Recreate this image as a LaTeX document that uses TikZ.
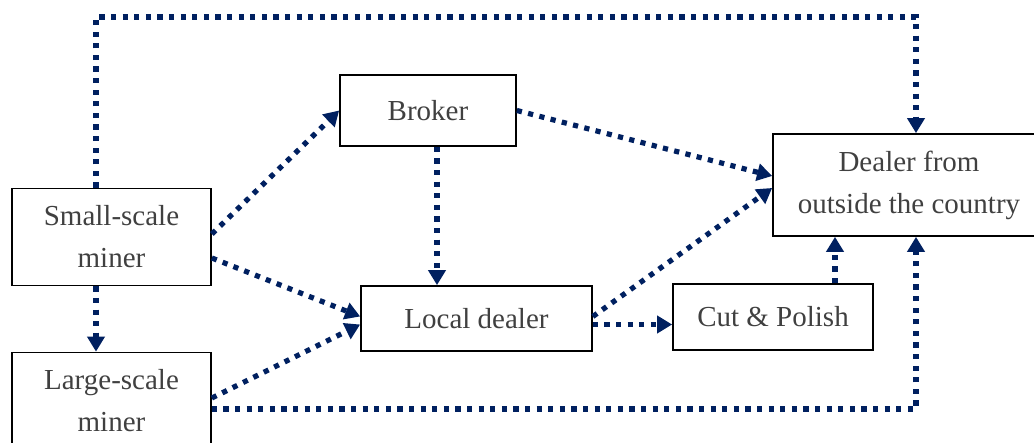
\documentclass[tikz,border=0pt]{standalone}
\usepackage{fontspec}
\setmainfont{Liberation Serif}
\usetikzlibrary{arrows.meta}
\definecolor{navy}{RGB}{0,32,96}
\definecolor{txtgray}{RGB}{64,64,64}
\tikzset{box/.style = {draw, line width=0.85pt, text=txtgray, align=center, inner sep=0pt,
                       font=\fontsize{14.5}{21}\selectfont},
         flow/.style = {navy, line width=2.6pt, dash pattern=on 2.6pt off 3.2pt,
                        -{Triangle[width=8.5pt,length=7.5pt]}}}

\begin{document}
\begin{tikzpicture}[x=0.5pt, y=-0.5pt]
\useasboundingbox (0,0) rectangle (1034,443);
\node[box, minimum width=99.5pt, minimum height=48.5pt] (small) at (111.5,237) {Small-scale\\miner};
\node[box, minimum width=99.5pt, minimum height=48.5pt] (large) at (111.5,401) {Large-scale\\miner};
\node[box, minimum width=88pt, minimum height=35.5pt] (broker) at (428,110.5) {Broker};
\node[box, minimum width=115.5pt, minimum height=32.5pt] (local) at (476.5,318.5) {Local dealer};
\node[box, minimum width=100pt, minimum height=33pt] (cut) at (773,317) {Cut \& Polish};
\node[box, minimum width=136pt, minimum height=51pt] (dealer) at (909,185) {Dealer from\\outside the country};
\coordinate (tl) at (96,17);
\coordinate (tr) at (916,17);
\coordinate (br) at (916,409);
% flows
\draw[flow] (tl |- small.north) -- (tl) -- (tr) -- (tr |- dealer.north);
\draw[flow] ([yshift=1.5pt]small.east) -- (broker.west);
\draw[flow] ([yshift=-10.5pt]small.east) -- ([yshift=1pt]local.west);
\draw[flow] (tl |- small.south) -- (tl |- large.north);
\draw[flow] ([yshift=1.5pt]large.east) -- ([yshift=-3pt]local.west);
\draw[flow] (br -| large.east) -- (br) -- (br |- dealer.south);
\draw[flow] ([xshift=4.5pt]broker.south) -- ([xshift=4.5pt]broker.south |- local.north);
\draw[flow] (broker.east) -- ([yshift=4.5pt]dealer.west);
\draw[flow] ([yshift=1pt]local.east) -- ([yshift=-1.5pt]dealer.west);
\draw[flow] ([yshift=-3pt]local.east) -- ([yshift=-3pt]local.east -| cut.west);
\draw[flow] ([xshift=31pt]cut.north) -- ([xshift=31pt]cut.north |- dealer.south);
\end{tikzpicture}
\end{document}
